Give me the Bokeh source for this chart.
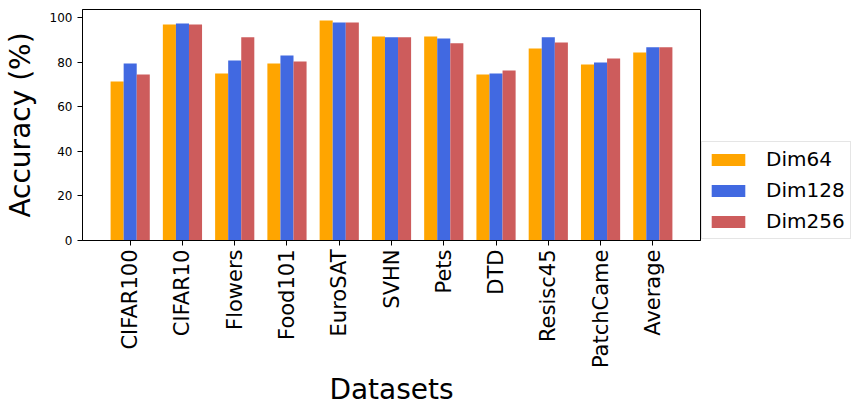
import numpy as np
from bokeh.plotting import figure
from bokeh.models import ColumnDataSource, FactorRange, Legend, LegendItem, FixedTicker, Range1d
from bokeh.transform import dodge
from bokeh.embed import file_html
from bokeh.resources import INLINE
import math

categories = ["CIFAR100", "CIFAR10", "Flowers", "Food101", "EuroSAT", "SVHN",
              "Pets", "DTD", "Resisc45", "PatchCame", "Average"]
dim64 = [71.4, 97.0, 75.0, 79.5, 98.8, 91.6, 91.6, 74.5, 86.2, 79.0, 84.4]
dim128 = [79.5, 97.4, 80.8, 83.1, 97.9, 91.2, 90.7, 75.0, 91.2, 79.9, 86.7]
dim256 = [74.5, 97.0, 91.2, 80.4, 97.9, 91.2, 88.5, 76.3, 88.9, 81.7, 86.7]
y_ticks = [0, 20, 40, 60, 80, 100]
series_names = ["Dim64", "Dim128", "Dim256"]
colors = ["orange", "royalblue", "indianred"]

src = ColumnDataSource(dict(cat=categories, d64=dim64, d128=dim128, d256=dim256))

FONT = "DejaVu Sans"
p = figure(frame_width=618, frame_height=231, output_backend="svg", toolbar_location=None,
           x_range=FactorRange(*categories, range_padding=0.075),
           y_range=Range1d(0, 103.7))
p.min_border_left = 80
p.min_border_top = 9
p.min_border_right = 0
p.min_border_bottom = 10
p.background_fill_color = "white"
p.border_fill_color = "white"
p.outline_line_color = "black"
p.outline_line_width = 1
p.xgrid.visible = False
p.ygrid.visible = False

renderers = []
for off, col, color in zip([-0.25, 0.0, 0.25], ["d64", "d128", "d256"], colors):
    r = p.vbar(x=dodge("cat", off, range=p.x_range), top=col, width=0.25,
               source=src, fill_color=color, line_color=None)
    renderers.append(r)

# axes
p.yaxis.ticker = FixedTicker(ticks=y_ticks)
p.yaxis.minor_tick_line_color = None
p.yaxis.major_tick_out = 5
p.yaxis.major_tick_in = 0
p.yaxis.major_label_text_font = FONT
p.yaxis.major_label_text_font_size = "12px"
p.yaxis.major_label_text_color = "black"
p.yaxis.axis_label = "Accuracy (%)"
p.yaxis.axis_label_text_font = FONT
p.yaxis.axis_label_text_font_size = "28px"
p.yaxis.axis_label_text_font_style = "normal"
p.yaxis.axis_label_text_color = "black"
p.yaxis.axis_label_standoff = 10
p.yaxis.axis_line_color = "black"

p.xaxis.major_label_orientation = math.pi / 2
p.xaxis.major_tick_out = 5
p.xaxis.major_tick_in = 0
p.xaxis.major_label_text_font = FONT
p.xaxis.major_label_text_font_size = "21px"
p.xaxis.major_label_text_color = "black"
p.xaxis.major_label_standoff = 4
p.xaxis.axis_label = "Datasets"
p.xaxis.axis_label_text_font = FONT
p.xaxis.axis_label_text_font_size = "28px"
p.xaxis.axis_label_text_font_style = "normal"
p.xaxis.axis_label_text_color = "black"
p.xaxis.axis_label_standoff = 2
p.xaxis.axis_line_color = "black"

legend = Legend(items=[LegendItem(label=n, renderers=[r]) for n, r in zip(series_names, renderers)],
                location="bottom_left")
legend.label_text_font = FONT
legend.label_text_font_size = "20px"
legend.label_text_color = "black"
legend.glyph_width = 42
legend.glyph_height = 15
legend.label_standoff = 17
legend.label_height = 20
legend.spacing = 7
legend.padding = 5
legend.margin = 1
legend.border_line_color = "#cccccc"
legend.border_line_width = 1
legend.background_fill_alpha = 0.8
p.add_layout(legend, "right")

open("out.html", "w").write(file_html(p, INLINE))
